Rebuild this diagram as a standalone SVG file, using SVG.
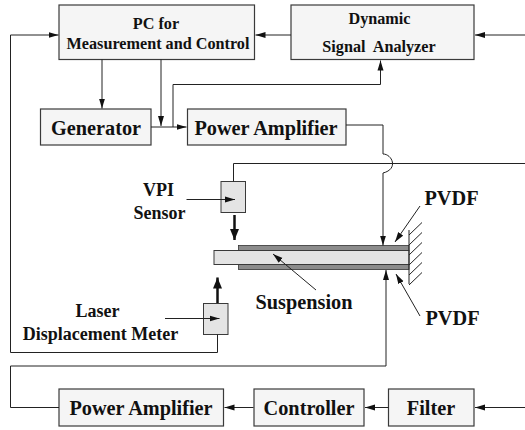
<svg xmlns="http://www.w3.org/2000/svg" width="525" height="430" viewBox="0 0 525 430">
<style>
.b{fill:#f5f5f5;stroke:#3a3a3a;stroke-width:1.2}
.s{fill:#e4e4e4;stroke:#3a3a3a;stroke-width:1}
.p{fill:#8c8c8c;stroke:#333;stroke-width:.8}
.c{fill:none;stroke:#222;stroke-width:1}
.t{font-family:"Liberation Serif",serif;font-weight:bold;fill:#111;text-anchor:middle}
.f16{font-size:16.2px}.f18{font-size:18px}.f20{font-size:20.3px}
</style>
<defs>
<marker id="a" markerUnits="userSpaceOnUse" markerWidth="11" markerHeight="7" refX="10" refY="3.5" orient="auto"><path d="M0,0.5L10,3.5L0,6.5Z" fill="#111"/></marker>
<marker id="h" markerUnits="userSpaceOnUse" markerWidth="12" markerHeight="10" refX="11" refY="5" orient="auto"><path d="M0,0.500L11,5L0,9.500Z" fill="#111"/></marker>
</defs>
<g id="pc"><rect class="b" x="59" y="5" width="195.500" height="54.500"/><text class="t f16" x="156" y="29">PC for</text><text class="t f16" x="158" y="48.500">Measurement and Control</text></g>
<g id="analyzer"><rect class="b" x="291" y="5" width="183" height="54.500"/><text class="t f16" x="379.500" y="24">Dynamic</text><text class="t f16" x="379" y="52" xml:space="preserve">Signal  Analyzer</text></g>
<g id="generator"><rect class="b" x="40.500" y="109" width="110.500" height="36"/><text class="t f20" x="96" y="135">Generator</text></g>
<g id="amp1"><rect class="b" x="187.500" y="109" width="158.500" height="36"/><text class="t f20" x="266" y="135">Power Amplifier</text></g>
<g id="vpi"><rect class="s" x="221" y="181.500" width="24.500" height="31"/><text class="t f18" x="158.500" y="196">VPI</text><text class="t f18" x="159.500" y="219">Sensor</text></g>
<g id="laser"><rect class="s" x="203.500" y="303.500" width="24.500" height="31"/><text class="t f18" x="97.500" y="317">Laser</text><text class="t f18" x="100.500" y="340">Displacement Meter</text></g>
<g id="beam">
<rect class="p" x="238.500" y="245.500" width="170.500" height="5"/>
<rect class="p" x="238.500" y="264.500" width="170.500" height="5"/>
<rect class="s" x="214" y="250.500" width="195" height="14"/>
<path class="c" d="M409 230V284M409 235L422 222.500M409 245L422 232.500M409 255L422 242.500M409 265L422 252.500M409 275L422 262.500M409 285L422 272.500"/>
</g>
<g id="labels"><text class="t f20" x="304" y="309">Suspension</text><text class="t f20" x="451.500" y="205">PVDF</text><text class="t f20" x="452.500" y="325">PVDF</text></g>
<g id="amp2"><rect class="b" x="59" y="389" width="164.500" height="37"/><text class="t f20" x="141" y="415">Power Amplifier</text></g>
<g id="controller"><rect class="b" x="254" y="389" width="110" height="37"/><text class="t f20" x="309" y="415">Controller</text></g>
<g id="filter"><rect class="b" x="388.500" y="389" width="85.500" height="37"/><text class="t f20" x="431" y="415">Filter</text></g>
<g id="connectors">
<path class="c" d="M525 35H475" marker-end="url(#a)"/>
<path class="c" d="M291 35H255.500" marker-end="url(#a)"/>
<path class="c" d="M10.500 352.500V35H58.500" marker-end="url(#a)"/>
<path class="c" d="M102 59.500V108.500" marker-end="url(#a)"/>
<path class="c" d="M161 59.500V126" marker-end="url(#a)"/>
<path class="c" d="M151 127H186.500" marker-end="url(#a)"/>
<path class="c" d="M173 127V84.500H380.500V60.500" marker-end="url(#a)"/>
<path class="c" d="M346 125H383V154C392 154 399 169 383 173V245.500" marker-end="url(#a)"/>
<path class="c" d="M233.500 181.500V163.500H525"/>
<path class="c" d="M186.500 199.500H235" marker-end="url(#a)"/>
<path d="M234.500 215V240" stroke="#111" stroke-width="2.500" fill="none" marker-end="url(#h)"/>
<path d="M217.500 303V277.500" stroke="#111" stroke-width="2.500" fill="none" marker-end="url(#h)"/>
<path class="c" d="M165 318.500H219.500" marker-end="url(#a)"/>
<path class="c" d="M217.500 334.500V352.500H10.500"/>
<path class="c" d="M59 407.500H10.500V366H386V270" marker-end="url(#a)"/>
<path class="c" d="M253.500 407.500H224.500" marker-end="url(#a)"/>
<path class="c" d="M388.500 407.500H365" marker-end="url(#a)"/>
<path class="c" d="M525 407.500H475" marker-end="url(#a)"/>
<path class="c" d="M316 290L273 254" marker-end="url(#a)"/>
<path class="c" d="M420 206L395 242" marker-end="url(#a)"/>
<path class="c" d="M420 316L396 274" marker-end="url(#a)"/>
</g>
</svg>
